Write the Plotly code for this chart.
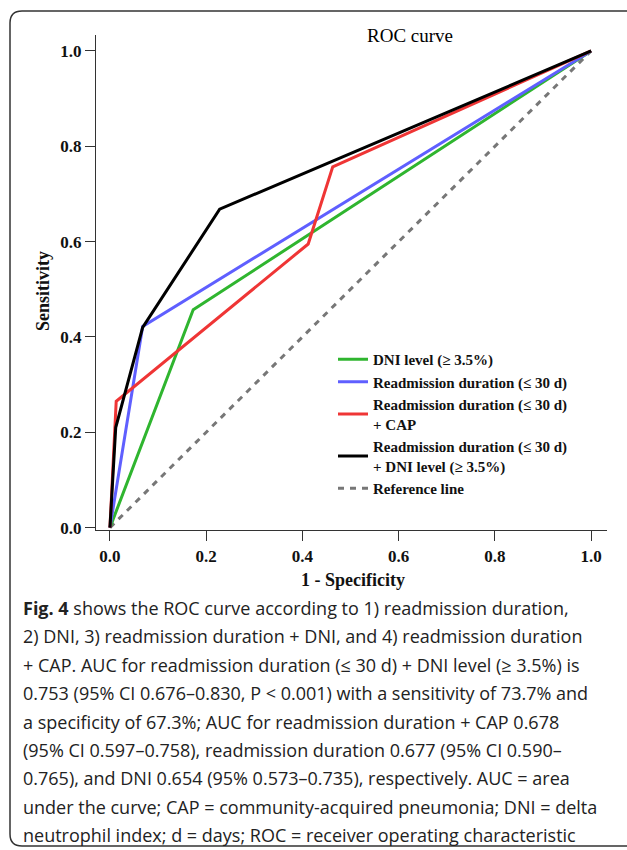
import plotly.graph_objects as go

# ---- data ----
fpr_dni = [0.0, 0.173, 1.0]
tpr_dni = [0.0, 0.457, 1.0]
fpr_read = [0.0, 0.068, 1.0]
tpr_read = [0.0, 0.422, 1.0]
fpr_read_cap = [0.0, 0.013, 0.412, 0.463, 1.0]
tpr_read_cap = [0.0, 0.265, 0.595, 0.757, 1.0]
fpr_read_dni = [0.0, 0.012, 0.068, 0.228, 1.0]
tpr_read_dni = [0.0, 0.210, 0.420, 0.668, 1.0]
ref_x = [0.0, 1.0]
ref_y = [0.0, 1.0]

names = [
    "DNI level (≥ 3.5%)",
    "Readmission duration (≤ 30 d)",
    "Readmission duration (≤ 30 d)<br>+ CAP",
    "Readmission duration (≤ 30 d)<br>+ DNI level (≥ 3.5%)",
    "Reference line",
]
tick_vals = [0.0, 0.2, 0.4, 0.6, 0.8, 1.0]
tick_text = ["0.0", "0.2", "0.4", "0.6", "0.8", "1.0"]

caption_lines = [
    "<b>Fig. 4</b> shows the ROC curve according to 1) readmission duration,",
    "2) DNI, 3) readmission duration + DNI, and 4) readmission duration",
    "+ CAP. AUC for readmission duration (≤ 30 d) + DNI level (≥ 3.5%) is",
    "0.753 (95% CI 0.676–0.830, P &lt; 0.001) with a sensitivity of 73.7% and",
    "a specificity of 67.3%; AUC for readmission duration + CAP 0.678",
    "(95% CI 0.597–0.758), readmission duration 0.677 (95% CI 0.590–",
    "0.765), and DNI 0.654 (95% 0.573–0.735), respectively. AUC = area",
    "under the curve; CAP = community-acquired pneumonia; DNI = delta",
    "neutrophil index; d = days; ROC = receiver operating characteristic",
]

# ---- layout geometry (pixels) ----
W, H = 627, 850
PL, PR, PT, PB = 96, 607, 35, 530   # plot area edges
pw, ph = PR - PL, PB - PT


def px(x):
    return (x - PL) / pw


def py(y):
    return (PB - y) / ph


SERIF = "Liberation Serif, Times New Roman, serif"
SANS = "Open Sans, Noto Sans, sans-serif"

fig = go.Figure()
fig.add_trace(go.Scatter(x=ref_x, y=ref_y, mode="lines", name=names[4],
                         line=dict(color="#777777", width=3, dash="6px,6px"),
                         legendrank=5))
fig.add_trace(go.Scatter(x=fpr_dni, y=tpr_dni, mode="lines", name=names[0],
                         line=dict(color="#2fb52f", width=3), legendrank=1))
fig.add_trace(go.Scatter(x=fpr_read, y=tpr_read, mode="lines", name=names[1],
                         line=dict(color="#5f5fff", width=3), legendrank=2))
fig.add_trace(go.Scatter(x=fpr_read_cap, y=tpr_read_cap, mode="lines", name=names[2],
                         line=dict(color="#ef3535", width=3), legendrank=3))
fig.add_trace(go.Scatter(x=fpr_read_dni, y=tpr_read_dni, mode="lines", name=names[3],
                         line=dict(color="#000000", width=3), legendrank=4))

tickfont = dict(family=SERIF, size=17, color="#111111", weight="bold")
axis_common = dict(
    showgrid=False, zeroline=False, showline=True, linecolor="#333333", linewidth=1.2,
    ticks="outside", ticklen=10, tickwidth=1, tickcolor="#333333",
    tickvals=tick_vals, ticktext=tick_text, tickfont=tickfont,
)

fig.update_layout(
    width=W, height=H,
    margin=dict(l=PL, r=W - PR, t=PT, b=H - PB),
    paper_bgcolor="white", plot_bgcolor="white",
    xaxis=dict(range=[-0.029, 1.033], **axis_common),
    yaxis=dict(range=[-0.005, 1.0335], **axis_common),
    showlegend=True,
    legend=dict(
        x=px(333), y=py(343), xanchor="left", yanchor="top",
        bgcolor="rgba(0,0,0,0)", borderwidth=0,
        font=dict(family=SERIF, size=15, color="#111111", weight="bold"),
        traceorder="normal", itemwidth=30, tracegroupgap=0,
    ),
)

annotations = [
    dict(text="ROC curve", x=px(410), y=py(35), xref="paper", yref="paper",
         showarrow=False, xanchor="center", yanchor="middle",
         font=dict(family=SERIF, size=19, color="#000000")),
    dict(text="<b>Sensitivity</b>", x=px(43), y=py(291), xref="paper", yref="paper",
         showarrow=False, xanchor="center", yanchor="middle", textangle=-90,
         font=dict(family=SERIF, size=18, color="#111111")),
    dict(text="<b>1 - Specificity</b>", x=px(353), y=py(580), xref="paper", yref="paper",
         showarrow=False, xanchor="center", yanchor="middle",
         font=dict(family=SERIF, size=18, color="#111111")),
]
cap_y0, cap_dy = 608, 28.4
for i, line in enumerate(caption_lines):
    annotations.append(dict(
        text=line, x=px(21), y=py(cap_y0 + i * cap_dy), xref="paper", yref="paper",
        showarrow=False, xanchor="left", yanchor="middle", align="left",
        font=dict(family=SANS, size=18, color="#222222")))
fig.update_layout(annotations=annotations)

# rounded frame (open on the right)
left, top, bottom, right = px(10), py(11), py(846), px(640)
rx, ry = 12 / pw, 12 / ph
path = (f"M {right},{top} L {left + rx},{top} Q {left},{top} {left},{top - ry} "
        f"L {left},{bottom + ry} Q {left},{bottom} {left + rx},{bottom} L {right},{bottom}")
fig.add_shape(type="path", path=path, xref="paper", yref="paper",
              line=dict(color="#333333", width=1.5), layer="above")

fig.write_html("out.html")
